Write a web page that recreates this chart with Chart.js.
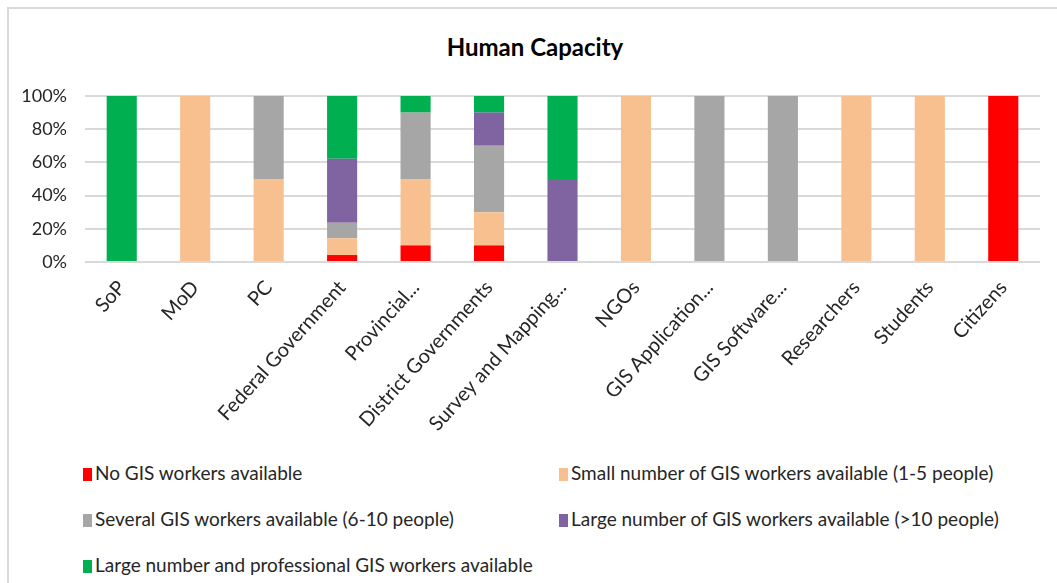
<!DOCTYPE html>
<html>
<head>
<meta charset="utf-8">
<script src="https://cdn.jsdelivr.net/npm/chart.js@4/dist/chart.umd.min.js"></script>
<style>
  body { margin: 0; background: #fff; overflow: hidden; }
  #frame { position: absolute; left: 7px; top: 7px; width: 1100px; height: 640px; border: 2px solid #d9d9d9; }
  #title { position: absolute; left: 0; top: 33px; width: 1070px; text-align: center; font: bold 24px Lato, sans-serif; line-height: 28px; color: #000; }
  #wrap { position: absolute; left: 0; top: 0; width: 1057px; height: 445px; }
  #legend { position: absolute; left: 83px; top: 459px; display: grid; grid-template-columns: 476px auto; row-gap: 18px; }
  .item { font: 19px Lato, sans-serif; color: #262626; white-space: nowrap; line-height: 28px; }
  .box { display: inline-block; width: 9px; height: 13px; margin-right: 3px; vertical-align: -1px; }
</style>
</head>
<body>
<div id="frame"></div>
<div id="title">Human Capacity</div>
<div id="wrap"><canvas id="capacityChart"></canvas></div>
<div id="legend"></div>
<script>
const labels = ["SoP", "MoD", "PC", "Federal Government", "Provincial...", "District Governments",
  "Survey and Mapping...", "NGOs", "GIS Application...", "GIS Software...", "Researchers", "Students", "Citizens"];

const noWorkers      = [0, 0, 0, 4.2, 10, 10, 0, 0, 0, 0, 0, 0, 100];
const smallNumber    = [0, 100, 50, 10.1, 40, 20, 0, 100, 0, 0, 100, 100, 0];
const severalWorkers = [0, 0, 50, 9.4, 40, 40, 0, 0, 100, 100, 0, 0, 0];
const largeNumber    = [0, 0, 0, 38.5, 0, 20, 50, 0, 0, 0, 0, 0, 0];
const professional   = [100, 0, 0, 37.8, 10, 10, 50, 0, 0, 0, 0, 0, 0];

const ctx = document.getElementById("capacityChart").getContext("2d");
const capacityChart = new Chart(ctx, {
  type: "bar",
  data: {
    labels: labels,
    datasets: [
      { label: "No GIS workers available", data: noWorkers, backgroundColor: "#ff0000" },
      { label: "Small number of GIS workers available (1-5 people)", data: smallNumber, backgroundColor: "#f9c08f" },
      { label: "Several GIS workers available (6-10 people)", data: severalWorkers, backgroundColor: "#a6a6a6" },
      { label: "Large number of GIS workers available (>10 people)", data: largeNumber, backgroundColor: "#8064a2" },
      { label: "Large number and professional GIS workers available", data: professional, backgroundColor: "#00b050" },
    ],
  },
  options: {
    responsive: true,
    maintainAspectRatio: false,
    animation: false,
    layout: { padding: { left: 0, right: 17, top: 96, bottom: 0 } },
    datasets: { bar: { categoryPercentage: 1, barPercentage: 0.41 } },
    plugins: {
      legend: { display: false },
      tooltip: { enabled: false },
      title: { display: false },
    },
    scales: {
      x: {
        stacked: true,
        grid: { display: false },
        border: { display: false },
        ticks: {
          autoSkip: false,
          minRotation: 48,
          maxRotation: 48,
          color: "#262626",
          font: { family: "Lato", size: 20 },
          padding: 6,
        },
        afterFit: (s) => { s.height = 183; },
      },
      y: {
        stacked: true,
        min: 0,
        max: 100,
        border: { display: false },
        grid: { color: "#d9d9d9", lineWidth: 2, drawTicks: false },
        ticks: {
          stepSize: 20,
          padding: 18,
          color: "#262626",
          font: { family: "Lato", size: 18 },
          callback: (v) => v + "%",
        },
        afterFit: (s) => { s.width = 85; },
      },
    },
  },
});

const legendEl = document.getElementById("legend");
capacityChart.data.datasets.forEach((ds) => {
  const item = document.createElement("div");
  item.className = "item";
  item.innerHTML = '<span class="box" style="background:' + ds.backgroundColor + '"></span>';
  item.appendChild(document.createTextNode(ds.label));
  legendEl.appendChild(item);
});
</script>
</body>
</html>
